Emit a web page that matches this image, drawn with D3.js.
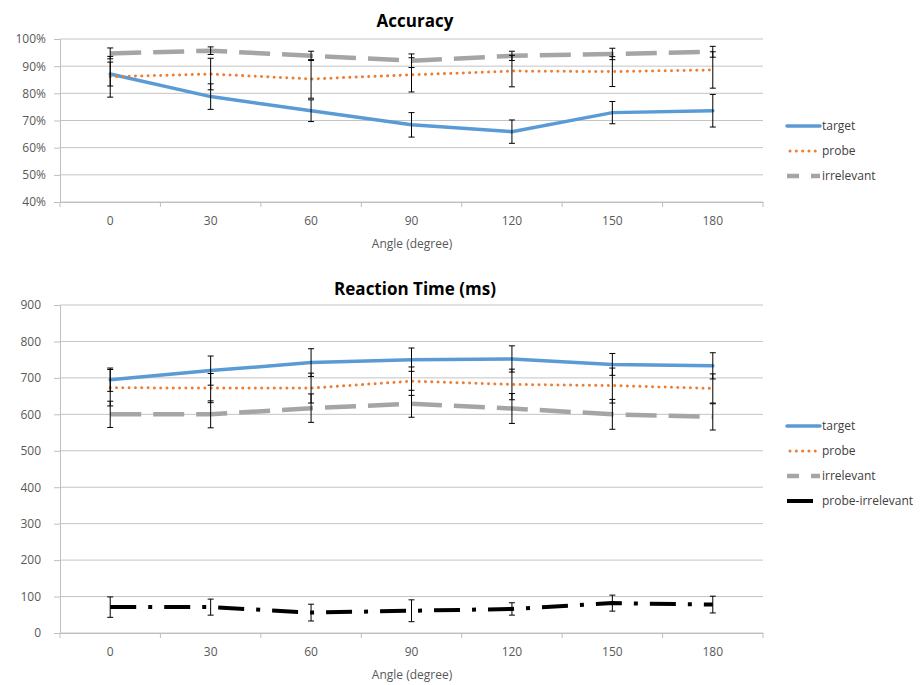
<!DOCTYPE html>
<html>
<head>
<meta charset="utf-8">
<script src="https://cdn.jsdelivr.net/npm/d3@7"></script>
<style>
  body { margin: 0; background: #fff; }
  svg text { font-family: "Open Sans", sans-serif; }
</style>
</head>
<body>
<div id="chart"></div>
<script>
// x categories
const angles = [0, 30, 60, 90, 120, 150, 180];

// accuracy (%), mean and error bar half-width
const accTarget = [87.1, 78.8, 73.6, 68.4, 65.9, 72.9, 73.6];
const accTargetErr = [4.4, 4.7, 4.0, 4.5, 4.3, 4.1, 6.0];
const accProbe = [86.1, 87.1, 85.3, 86.8, 88.2, 88.0, 88.6];
const accProbeErr = [7.5, 5.8, 7.1, 6.3, 5.8, 5.5, 6.7];
const accIrr = [94.7, 95.7, 93.8, 92.0, 93.8, 94.5, 95.3];
const accIrrErr = [2.0, 1.4, 1.7, 2.5, 1.7, 2.1, 2.0];
const accTicks = [40, 50, 60, 70, 80, 90, 100];

// reaction time (ms)
const rtTarget = [695, 720, 742, 750, 752, 737, 733];
const rtTargetErr = [32, 40, 38, 32, 36, 30, 36];
const rtProbe = [673, 672, 672, 691, 682, 679, 671];
const rtProbeErr = [50, 40, 41, 39, 42, 48, 40];
const rtIrr = [600, 600, 617, 629, 616, 600, 593];
const rtIrrErr = [36, 37, 39, 37, 41, 41, 36];
const rtDiff = [71, 71, 56, 61, 66, 82, 78];
const rtDiffErr = [28, 22, 23, 30, 17, 22, 23];
const rtTicks = [0, 100, 200, 300, 400, 500, 600, 700, 800, 900];

const styles = {
    target: { color: '#5b9bd5', width: 3.5, dash: null, cap: 'round', swatch: null },
    probe: { color: '#ed7d31', width: 3, dash: '0.01,6.3', cap: 'round', swatch: '0.01,6.3' },
    irrelevant: { color: '#a5a5a5', width: 4.5, dash: '31,12', cap: 'butt', swatch: '12,12' },
    'probe-irrelevant': { color: '#000000', width: 4, dash: '26,12,4,12', cap: 'butt', swatch: '26,12' }
};

const width = 922, height = 685;
const svg = d3.select('#chart').append('svg')
    .attr('width', width)
    .attr('height', height);

const x = d3.scaleBand()
    .domain(angles)
    .range([60, 763]);

function drawPanel(opt) {
    const y = d3.scaleLinear().domain(opt.domain).range([opt.bottom, opt.top]);
    const g = svg.append('g');

    // gridlines
    g.selectAll('.grid')
        .data(opt.ticks)
        .enter().append('line')
        .attr('x1', 60).attr('x2', 763)
        .attr('y1', d => y(d)).attr('y2', d => y(d))
        .attr('stroke', '#c4c4c4')
        .attr('stroke-width', 1);

    // y axis
    const yAxis = g.append('g')
        .attr('transform', 'translate(60,0)')
        .call(d3.axisLeft(y).tickValues(opt.ticks).tickSize(6).tickPadding(opt.pad).tickFormat(opt.fmt));
    yAxis.select('.domain').attr('stroke', '#bfbfbf');
    yAxis.selectAll('.tick line').attr('stroke', '#bfbfbf');
    yAxis.selectAll('text').attr('font-size', 12).attr('fill', '#595959');

    // x axis
    const xAxis = g.append('g')
        .attr('transform', `translate(0,${opt.bottom})`)
        .call(d3.axisBottom(x).tickSize(0).tickPadding(14));
    xAxis.select('.domain').attr('stroke', '#bfbfbf');
    xAxis.selectAll('text').attr('font-size', 12).attr('fill', '#595959');
    g.selectAll('.xtick')
        .data(d3.range(angles.length + 1))
        .enter().append('line')
        .attr('x1', i => 60 + i * x.step()).attr('x2', i => 60 + i * x.step())
        .attr('y1', opt.bottom).attr('y2', opt.bottom + 5)
        .attr('stroke', '#bfbfbf');

    g.append('text')
        .attr('x', 412).attr('y', opt.bottom + 46)
        .attr('text-anchor', 'middle')
        .attr('font-size', 12)
        .attr('fill', '#595959')
        .text('Angle (degree)');

    g.append('text')
        .attr('x', 415).attr('y', opt.titleY)
        .attr('text-anchor', 'middle')
        .attr('font-size', 17)
        .attr('font-weight', 'bold')
        .attr('fill', '#000')
        .text(opt.title);

    const cx = d => x(d) + x.bandwidth() / 2;

    // series lines
    opt.series.forEach(s => {
        const st = styles[s.name];
        const line = d3.line()
            .x((d, i) => cx(angles[i]))
            .y(d => y(d));
        g.append('path')
            .datum(s.values)
            .attr('d', line)
            .attr('fill', 'none')
            .attr('stroke', st.color)
            .attr('stroke-width', st.width)
            .attr('stroke-linecap', st.cap)
            .attr('stroke-dasharray', st.dash);
    });

    // error bars
    opt.series.forEach(s => {
        const eb = g.append('g');
        s.values.forEach((v, i) => {
            const xx = cx(angles[i]);
            const y1 = y(v + s.err[i]), y2 = y(v - s.err[i]);
            eb.append('line').attr('x1', xx).attr('x2', xx).attr('y1', y1).attr('y2', y2);
            eb.append('line').attr('x1', xx - 3).attr('x2', xx + 3).attr('y1', y1).attr('y2', y1);
            eb.append('line').attr('x1', xx - 3).attr('x2', xx + 3).attr('y1', y2).attr('y2', y2);
        });
        eb.selectAll('line').attr('stroke', '#000').attr('stroke-width', 1);
    });

    // legend
    const leg = g.selectAll('.leg')
        .data(opt.series)
        .enter().append('g')
        .attr('transform', (d, i) => `translate(787,${opt.legendY + i * 25})`);
    leg.append('line')
        .attr('x1', 0).attr('x2', 33)
        .attr('stroke', d => styles[d.name].color)
        .attr('stroke-width', d => styles[d.name].width)
        .attr('stroke-linecap', d => styles[d.name].cap)
        .attr('stroke-dasharray', d => styles[d.name].swatch)
        .attr('stroke-dashoffset', d => d.name === 'probe' ? -3 : 0);
    leg.append('text')
        .attr('x', 35).attr('dy', '0.35em')
        .attr('font-size', 12)
        .attr('fill', '#404040')
        .text(d => d.name);
}

drawPanel({
    title: 'Accuracy', titleY: 27,
    domain: [40, 100], top: 39, bottom: 202,
    ticks: accTicks, pad: 8, fmt: d => d + '%',
    legendY: 126,
    series: [
        { name: 'target', values: accTarget, err: accTargetErr },
        { name: 'probe', values: accProbe, err: accProbeErr },
        { name: 'irrelevant', values: accIrr, err: accIrrErr }
    ]
});

drawPanel({
    title: 'Reaction Time (ms)', titleY: 295,
    domain: [0, 900], top: 305, bottom: 633,
    ticks: rtTicks, pad: 13, fmt: d => d,
    legendY: 426,
    series: [
        { name: 'target', values: rtTarget, err: rtTargetErr },
        { name: 'probe', values: rtProbe, err: rtProbeErr },
        { name: 'irrelevant', values: rtIrr, err: rtIrrErr },
        { name: 'probe-irrelevant', values: rtDiff, err: rtDiffErr }
    ]
});
</script>
</body>
</html>
